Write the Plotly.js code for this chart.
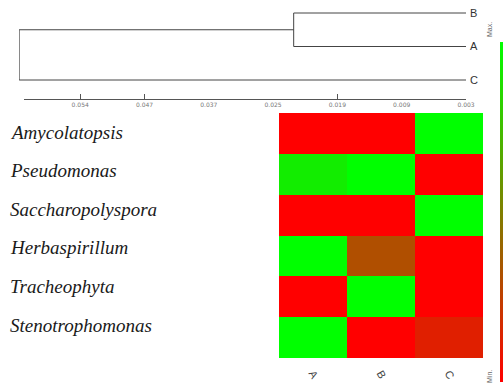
<!DOCTYPE html>
<html><head><meta charset="utf-8">
<script src="https://cdn.plot.ly/plotly-3.0.1.min.js"></script>
<style>html,body{margin:0;padding:0;background:#fff}#chart{width:503px;height:385px}</style>
</head><body><div id="chart"></div>
<script>
// ---- data ----
const genera = ['Amycolatopsis','Pseudomonas','Saccharopolyspora','Herbaspirillum','Tracheophyta','Stenotrophomonas'];
const samples = ['A','B','C'];
const colA = [0, 0.93, 0, 1, 0, 1];
const colB = [0, 1, 0, 0.31, 1, 0];
const colC = [1, 0, 1, 0, 0, 0.12];
// dendrogram (distance in scale-bar units, leaves at 0)
const leafOrder = ['B','A','C'];
const mergeABDist = 2.68;
const rootDist = 6.95;
const scaleTickLabels = ['0.054','0.047','0.037','0.025','0.019','0.009','0.003'];
const scaleTickPos = [6,5,4,3,2,1,0];
const scaleTickMarked = [6,5,2,0];

// ---- build ----
const z = genera.map((g,i)=>[colA[i], colB[i], colC[i]]);
const W = 503, H = 385;
const px = p => p / W;
const py = p => 1 - p / H;

const iB = leafOrder.indexOf('B'), iA = leafOrder.indexOf('A'), iC = leafOrder.indexOf('C');
const abMid = (iA + iB) / 2;
const dx = [mergeABDist, 0, null, mergeABDist, 0, null, mergeABDist, mergeABDist, null,
            rootDist, mergeABDist, null, rootDist, 0, null, rootDist, rootDist];
const dy = [iB, iB, null, iA, iA, null, iB, iA, null,
            abMid, abMid, null, iC, iC, null, abMid, iC];

const traces = [
  {type:'heatmap', x:samples, y:genera, z:z, xaxis:'x', yaxis:'y',
   zmin:0, zmax:1,
   colorscale:[[0,'#ff0000'],[1,'#00ff00']],
   colorbar:{x:px(500), xanchor:'left', thickness:3, thicknessmode:'pixels',
     len:340/H, lenmode:'fraction', y:3/H, yanchor:'bottom',
     outlinewidth:0, showticklabels:false, ticks:'', xpad:0, ypad:0},
   hoverongaps:false},
  {type:'scatter', mode:'lines', x:dx, y:dy, xaxis:'x2', yaxis:'y2',
   line:{color:'#444', width:1}, hoverinfo:'skip', showlegend:false},
  {type:'scatter', mode:'markers', x:[0], y:[null], xaxis:'x3', yaxis:'y2', showlegend:false, hoverinfo:'skip'},
  {type:'scatter', mode:'markers', x:[0], y:[null], xaxis:'x4', yaxis:'y2', showlegend:false, hoverinfo:'skip'}
];

const annotations = genera.map((g,i)=>({
  text:'<i>'+g+'</i>', xref:'paper', yref:'paper', x:px(8), y:py(132 + 38.6*i),
  xanchor:'left', yanchor:'middle', showarrow:false,
  font:{family:'Liberation Serif, Times New Roman, serif', size:19, color:'#1a1a1a'}
}));
annotations.push({text:'Max.', xref:'paper', yref:'paper', x:px(489), y:py(30), textangle:-90,
  showarrow:false, xanchor:'center', yanchor:'middle', font:{family:'Arial', size:7, color:'#666'}});
annotations.push({text:'Min.', xref:'paper', yref:'paper', x:px(489), y:py(377), textangle:-90,
  showarrow:false, xanchor:'center', yanchor:'middle', font:{family:'Arial', size:7, color:'#666'}});

const layout = {
  width:W, height:H, margin:{l:0,r:0,t:0,b:0},
  paper_bgcolor:'#fff', plot_bgcolor:'rgba(0,0,0,0)', showlegend:false,
  xaxis:{domain:[px(279), px(483)], anchor:'y', tickangle:60, ticks:'', showgrid:false, zeroline:false,
    tickfont:{family:'Arial', size:11, color:'#444'}, ticklabelstandoff:6},
  yaxis:{domain:[py(358), py(113)], anchor:'x', autorange:'reversed', showticklabels:false,
    showgrid:false, zeroline:false, ticks:''},
  xaxis2:{domain:[px(19), px(466)], range:[6.952, 0], anchor:'y2', showticklabels:false,
    showgrid:false, zeroline:false, ticks:'', showline:false},
  yaxis2:{domain:[py(98.5), 1], range:[2.552, -0.388], anchor:'x2', side:'right',
    tickvals:[0,1,2], ticktext:leafOrder, showgrid:false, zeroline:false, ticks:'', showline:false,
    ticklabelstandoff:3, tickfont:{family:'Arial', size:11, color:'#333'}},
  xaxis3:{domain:[px(24), px(466)], range:[6.874, 0], anchor:'free', position:py(98.5),
    showline:true, linecolor:'#555', linewidth:1, tickvals:scaleTickPos, ticktext:scaleTickLabels,
    ticks:'', showgrid:false, zeroline:false, tickfont:{family:'DejaVu Sans', size:6, color:'#777'}},
  xaxis4:{overlaying:'x3', range:[6.874, 0], anchor:'free', position:py(98.5),
    tickvals:scaleTickMarked, ticks:'inside', ticklen:5, tickcolor:'#555', tickwidth:1,
    showticklabels:false, showgrid:false, zeroline:false, showline:false},
  annotations:annotations
};

Plotly.newPlot('chart', traces, layout, {staticPlot:true, displayModeBar:false});
</script></body></html>
